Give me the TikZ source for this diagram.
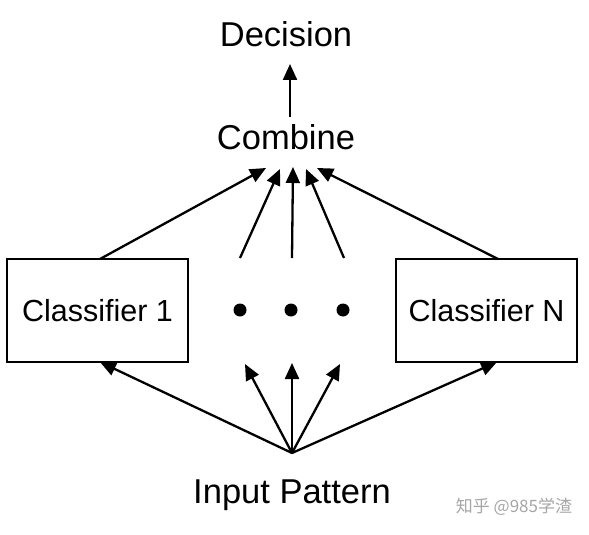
\documentclass[tikz,border=0pt]{standalone}
\usepackage{fontspec}
\setmainfont{Liberation Sans}
\newfontfamily\cjk{Noto Sans CJK SC}
\usetikzlibrary{arrows.meta}
\begin{document}
\begin{tikzpicture}[x=1pt,y=-1pt,
  lbl/.style={font=\fontsize{34.5}{40}\selectfont, inner sep=0pt, anchor=base},
  box/.style={draw, line width=2.2pt, minimum width=181pt, minimum height=103pt, inner sep=0pt, font=\fontsize{30.5}{36}\selectfont},
  arr/.style={line width=2.3pt, -{Triangle[length=16pt,width=14pt]}},
  dotc/.style={circle, fill=black, minimum size=13pt, inner sep=0pt}]
\useasboundingbox (0,0) rectangle (589,535);
\fill[white] (0,0) rectangle (589,535);
% labels
\node[lbl] (dec) at (286,46.5) {Decision};
\node[lbl] (comb) at (286,149.5) {Combine};
\node[lbl] (inp) at (292,503) {Input Pattern};
% boxes
\node[box] (c1) at (97.5,310.5) {Classifier 1};
\node[box] (cN) at (486.5,310.5) {Classifier N};
% dots
\node[dotc] (m1) at (240,310) {};
\node[dotc] (m2) at (291,310) {};
\node[dotc] (m3) at (343,310) {};
% coordinates
\coordinate (d0) at (290,117);
\coordinate (d1) at (290,64);
\coordinate (t1) at (266,168);
\coordinate (t2) at (280,169);
\coordinate (t3) at (293,167);
\coordinate (t4) at (306,169);
\coordinate (t5) at (317,168);
\coordinate (s1) at (100,259);
\coordinate (s2) at (240,258);
\coordinate (s3) at (292,258);
\coordinate (s4) at (344,258);
\coordinate (s5) at (498,259);
\coordinate (ip) at (292,453);
\coordinate (b1) at (100,362);
\coordinate (b2) at (245,364);
\coordinate (b3) at (292,363);
\coordinate (b4) at (340,364);
\coordinate (b5) at (497,362);
% arrows
\draw[arr] (d0) -- (d1);
\draw[arr] (s1) -- (t1);
\draw[arr] (s2) -- (t2);
\draw[arr] (s3) -- (t3);
\draw[arr] (s4) -- (t4);
\draw[arr] (s5) -- (t5);
\draw[arr] (ip) -- (b1);
\draw[arr] (ip) -- (b2);
\draw[arr] (ip) -- (b3);
\draw[arr] (ip) -- (b4);
\draw[arr] (ip) -- (b5);
% watermark
\node[text=black!35, font=\cjk\fontsize{17}{20}\selectfont, inner sep=0pt] (wm) at (514,507) {知乎 @985学渣};
\end{tikzpicture}
\end{document}
